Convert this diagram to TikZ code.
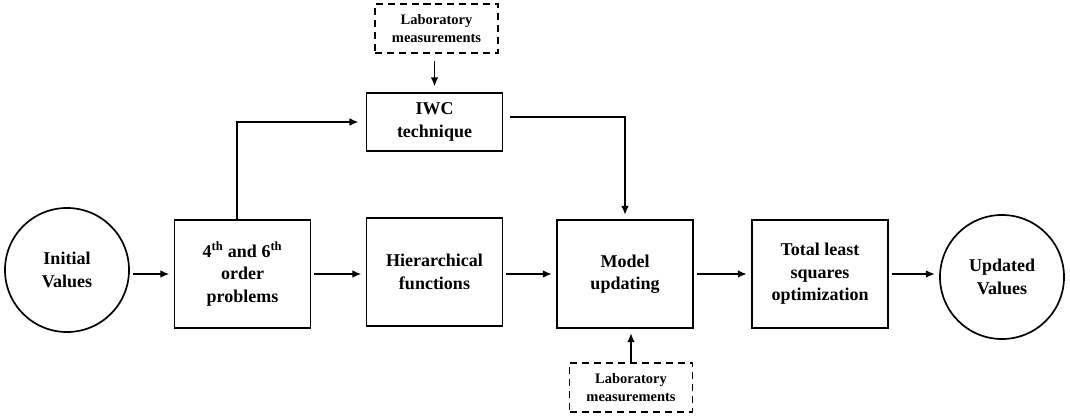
\documentclass[tikz,border=0pt]{standalone}
\usepackage{fontspec}
\setmainfont{Liberation Serif}
\usetikzlibrary{positioning, arrows.meta}

\tikzset{
	blockbox/.style={draw, line width=1.2pt, minimum width=3.4cm, minimum height=2.7cm, inner sep=0pt, align=center, font=\fontsize{12.8}{16}\selectfont\bfseries},
	valuecirc/.style={draw, circle, line width=1.2pt, minimum size=3.1cm, inner sep=0pt, align=center, font=\fontsize{12.8}{16}\selectfont\bfseries},
	labbox/.style={draw, dashed, dash pattern=on 5pt off 3.5pt, line width=1.2pt, minimum width=3.07cm, minimum height=1.22cm, inner sep=0pt, align=center, font=\fontsize{10.3}{12.8}\selectfont\bfseries},
	flow/.style={->, line width=1.4pt, shorten <=2pt, shorten >=3pt}
}

\begin{document}
\begin{tikzpicture}[x=0.025cm, y=-0.025cm, >={Latex[length=6.5pt, width=5.5pt]}]
		\useasboundingbox (0,0) rectangle (1070,419);
		% main row
		\node[valuecirc] (init) at (67,270) {Initial\\Values};
		\node[blockbox] (order) at (242.5,274) {4\textsuperscript{th} and 6\textsuperscript{th}\\order\\problems};
		\node[blockbox] (hier) at (434.5,272) {Hierarchical\\functions};
		\node[blockbox] (model) at (625,274) {Model\\updating};
		\node[blockbox] (tls) at (820,274) {Total least\\squares\\optimization};
		\node[valuecirc] (upd) at (1002,277) {Updated\\Values};
		% upper branch
		\node[blockbox, minimum height=1.45cm] (iwc) at (434.5,122) {IWC\\technique};
		\node[labbox] (labtop) at (436.5,28.5) {Laboratory\\measurements};
		\node[labbox] (labbot) at (631,387.5) {Laboratory\\measurements};

		\draw[flow] (init.east |- order.west) -- (order.west);
		\draw[flow] (order.east) -- (order.east -| hier.west);
		\draw[flow] (hier.east |- model.west) -- (model.west);
		\draw[flow] (model.east) -- (tls.west);
		\draw[flow] (tls.east) -- (tls.east -| upd.west);
		\draw[flow, shorten <=0pt, shorten >=5pt] ([xshift=-0.14cm]order.north) |- (iwc.west);
		\draw[flow, shorten <=5pt, shorten >=3pt] ([yshift=0.13cm]iwc.east) -| (model.north);
		\draw[flow, shorten <=5pt, shorten >=4pt] (labtop.south -| iwc.north) -- (iwc.north);
		\draw[flow, shorten <=0pt] (labbot.north) -- (labbot.north |- model.south);
	\end{tikzpicture}
\end{document}
